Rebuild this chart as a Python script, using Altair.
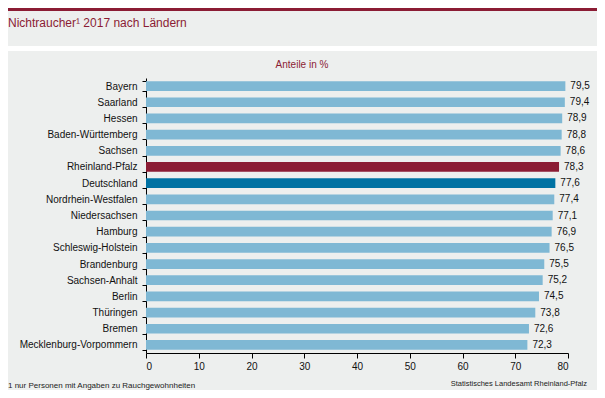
import altair as alt
import pandas as pd

states = ["Bayern", "Saarland", "Hessen", "Baden-Württemberg", "Sachsen",
          "Rheinland-Pfalz", "Deutschland", "Nordrhein-Westfalen", "Niedersachsen",
          "Hamburg", "Schleswig-Holstein", "Brandenburg", "Sachsen-Anhalt",
          "Berlin", "Thüringen", "Bremen", "Mecklenburg-Vorpommern"]
values = [79.5, 79.4, 78.9, 78.8, 78.6, 78.3, 77.6, 77.4, 77.1, 76.9, 76.5,
          75.5, 75.2, 74.5, 73.8, 72.6, 72.3]
x_ticks = [0, 10, 20, 30, 40, 50, 60, 70, 80]

title_text = "Nichtraucher¹ 2017 nach Ländern"
unit_text = "Anteile in %"
footnote_text = "1 nur Personen mit Angaben zu Rauchgewohnheiten"
source_text = "Statistisches Landesamt Rheinland-Pfalz"

BG = "#EDEFEE"
LIGHT = "#7FB8D4"
MAROON = "#8B1C34"
DARK = "#0072A3"
FONT = "Liberation Sans"

def kind(s):
    if s == "Rheinland-Pfalz":
        return "rlp"
    if s == "Deutschland":
        return "de"
    return "other"

df = pd.DataFrame({
    "Land": states,
    "Wert": values,
    "Kind": [kind(s) for s in states],
    "Label": [f"{v:.1f}".replace(".", ",") for v in values],
})

W, H = 422, 275
PL, PT = 138, 70
CW, CH = 589, 382
PR, PB = CW - PL - W, CH - PT - H

y_enc = alt.Y("Land:N", sort=states, title=None,
              scale=alt.Scale(paddingInner=0.4, paddingOuter=0.2),
              axis=alt.Axis(tickBand="extent", tickSize=4, labelPadding=5,
                            labelFontSize=10, labelFont=FONT, labelColor="#111111",
                            domainColor="#000000", tickColor="#000000",
                            grid=False))
x_enc = alt.X("Wert:Q", title=None,
              scale=alt.Scale(domain=[0, 80], nice=False),
              axis=alt.Axis(values=x_ticks, tickSize=5, labelPadding=3,
                            labelFontSize=10, labelFont=FONT, labelColor="#111111",
                            domainColor="#000000", tickColor="#000000",
                            grid=False))

bars = alt.Chart(df).mark_bar().encode(
    y=y_enc, x=x_enc,
    color=alt.Color("Kind:N", legend=None,
                    scale=alt.Scale(domain=["other", "rlp", "de"],
                                    range=[LIGHT, MAROON, DARK])),
)

labels = alt.Chart(df).mark_text(align="left", baseline="middle", dx=5,
                                 fontSize=10, font=FONT, color="#111111").encode(
    y=alt.Y("Land:N", sort=states), x="Wert:Q", text="Label:N")

one = pd.DataFrame({"t": [0]})

stripe = alt.Chart(one).mark_rect(color="#FFFFFF").encode(
    x=alt.value(-PL), x2=alt.value(W + PR), y=alt.value(-32), y2=alt.value(-27))
topline = alt.Chart(one).mark_rect(color=MAROON).encode(
    x=alt.value(-PL), x2=alt.value(W + PR), y=alt.value(-PT), y2=alt.value(-PT + 3))

def txt(s, x, y, size, color, align="left"):
    return alt.Chart(pd.DataFrame({"s": [s]})).mark_text(
        align=align, baseline="alphabetic", fontSize=size, font=FONT, color=color
    ).encode(x=alt.value(x), y=alt.value(y), text="s:N")

title = txt(title_text, -PL + 0, -51, 12, MAROON)
unit = txt(unit_text, 156, -10, 10, MAROON, align="center")
foot = txt(footnote_text, -PL + 0, 310, 8, "#222222")
src = txt(source_text, W + PR - 10, 308, 7.5, "#222222", align="right")

chart = alt.layer(stripe, topline, bars, labels, title, unit, foot, src).properties(
    width=W, height=H,
    autosize=alt.AutoSizeParams(type="none"),
    padding={"left": PL, "top": PT, "right": PR, "bottom": PB},
    background=BG,
).configure_view(stroke=None)

chart.save("out.html", embed_options={"renderer": "svg", "actions": False})
